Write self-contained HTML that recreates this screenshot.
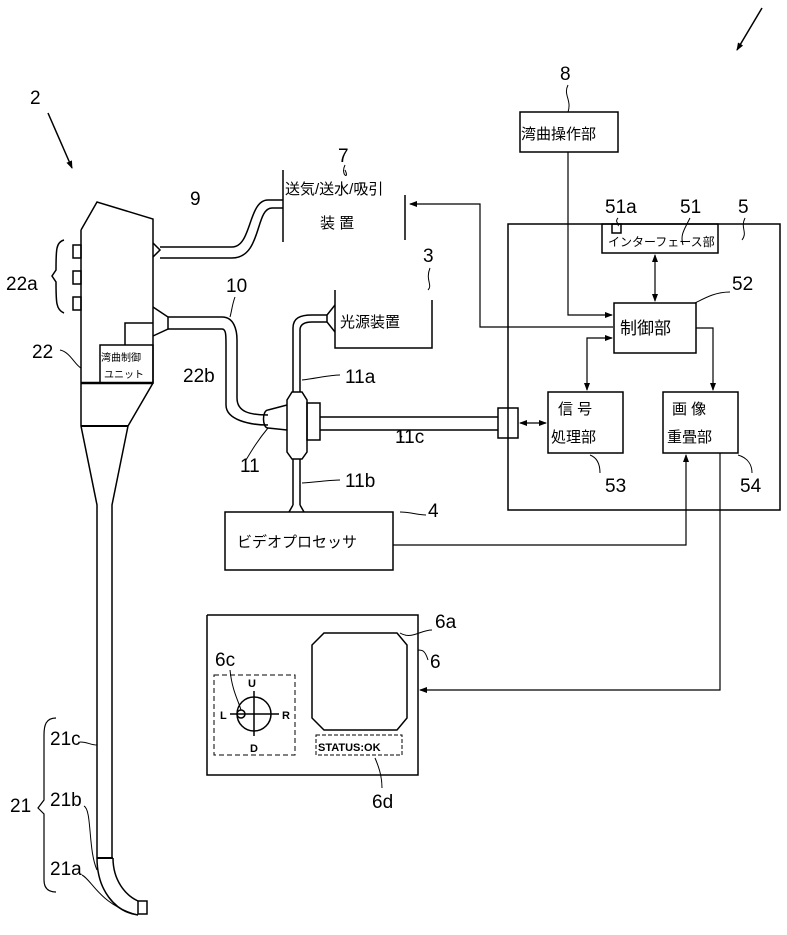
<!DOCTYPE html>
<html><head><meta charset="utf-8"><style>
body{margin:0;background:#fff}
svg{display:block}
text{font-family:"Liberation Sans","Noto Sans CJK JP",sans-serif;fill:#000}
</style></head><body>
<svg width="787" height="935" viewBox="0 0 787 935" xmlns="http://www.w3.org/2000/svg">
<defs><marker id="a" markerWidth="8" markerHeight="8" refX="7" refY="4" orient="auto" markerUnits="userSpaceOnUse"><path d="M0,1 L8,4 L0,7 Z" fill="#000"/></marker>
<marker id="b" markerWidth="8" markerHeight="8" refX="1" refY="4" orient="auto" markerUnits="userSpaceOnUse"><path d="M8,1 L0,4 L8,7 Z" fill="#000"/></marker></defs>
<g fill="none" stroke="#000" stroke-width="1.5">
<path d="M81,230 L97,202 L153,219 L153,383 L128,426 L112,505 L112,858 M81,230 L81,426 L97,505 L97,858"/>
<path d="M81,383 L153,383" stroke-width="2.5"/>
<path d="M81,426 L128,426" stroke-width="2"/>
<path d="M97,858 L113,858" stroke-width="2"/>
<path d="M97,858 C97,890 115,912 138,915 M113,858 C113,880 125,895 138,901"/>
<rect x="138" y="901" width="9" height="13"/>
<rect x="73" y="245" width="8" height="13"/><rect x="73" y="271" width="8" height="13"/><rect x="73" y="297" width="8" height="13"/>
<path d="M64,240 C56,242 56,250 56,270 L52,276 L56,282 C56,302 56,310 64,313"/>
<rect x="100" y="345" width="53" height="38"/><path d="M125,345 L125,323 L153,323"/>
<path d="M153,243 L160,250 L153,257"/>
<path d="M160,247 L232,247 C252,247 248,200 268,200 L283,200 M160,258 L232,258 C262,258 255,208 272,208 L283,208"/>
<path d="M283,170 L283,242 M405,195 L405,240"/>
<path d="M153,307 L168,317 L168,329 L153,336"/>
<path d="M168,317 L222,317 C234,317 237,330 237,340 L237,398 C237,412 250,415 268,415 M168,329 L222,329 C226,329 226,335 226,345 L226,405 C226,420 250,425 268,425"/>
<path d="M268,410 C262,410 262,428 268,428 M268,410 L287,405 M268,428 L287,430"/>
<path d="M287,400 L292,392 L302,392 L307,400 L307,452 L302,459 L292,459 L287,452 Z"/>
<rect x="307" y="403" width="13" height="37"/>
<path d="M293,392 L293,328 C293,318 300,315 312,315 L327,315 M300,392 L300,330 C300,324 305,322 312,322 L327,322"/>
<path d="M335,305 L327,315 L327,322 L335,332"/>
<path d="M335,290 L335,348 L432,348 L432,300"/>
<path d="M320,417 L498,417 M320,430 L498,430"/>
<rect x="498" y="408" width="20" height="30"/>
<path d="M293,459 L293,505 M300,459 L300,505 M293,505 L289,512 M300,505 L304,512"/>
<rect x="225" y="512" width="168" height="58"/>
<rect x="508" y="224" width="272" height="286"/>
<rect x="602" y="224" width="116" height="29"/>
<rect x="612" y="224" width="9" height="9"/>
<rect x="520" y="112" width="98" height="40"/>
<rect x="614" y="303" width="82" height="50"/>
<rect x="548" y="392" width="75" height="61"/>
<rect x="663" y="392" width="75" height="61"/>
<path d="M568,152 L568,315 L612,315" marker-end="url(#a)" stroke-width="1.2"/>
<path d="M613,327 L480,327 L480,204 L410,204" marker-end="url(#a)" stroke-width="1.2"/>
<path d="M655,255 L655,301" marker-end="url(#a)" marker-start="url(#b)" stroke-width="1.2"/>
<path d="M696,328 L713,328 L713,390" marker-end="url(#a)" stroke-width="1.2"/>
<path d="M612,338 L587,338 L587,390" marker-end="url(#a)" marker-start="url(#b)" stroke-width="1.2"/>
<path d="M520,423 L546,423" marker-end="url(#a)" marker-start="url(#b)" stroke-width="1.2"/>
<path d="M393,545 L686,545 L686,455" marker-end="url(#a)" stroke-width="1.2"/>
<path d="M720,453 L720,690 L420,690" marker-end="url(#a)" stroke-width="1.2"/>
<path d="M207,615 L207,775 L418,775 L418,615 L207,615"/>
<path d="M324,633 L397,633 L407,645 L407,718 L397,730 L324,730 L312,718 L312,645 Z"/>
<rect x="316" y="735" width="86" height="20" stroke-dasharray="4,2" stroke-width="1"/>
<rect x="214" y="675" width="81" height="80" stroke-dasharray="5,3" stroke-width="1"/>
<circle cx="254" cy="714" r="17"/>
<path d="M230,714 L279,714 M254,691 L254,736"/>
<circle cx="241" cy="714" r="4"/>
<path d="M48,113 L72,168" marker-end="url(#a)"/>
<path d="M762,8 L737,50" marker-end="url(#a)"/>
<path d="M56,718 C46,718 44,725 44,735 L44,800 L38,808 L44,814 L44,880 C44,888 48,892 56,892" stroke-width="1.2"/>
<path d="M80,742 C88,742 90,745 97,745 M84,806 C92,810 88,850 97,870 M82,875 C92,880 100,905 138,915" stroke-width="1"/>
<g stroke-width="1">
<path d="M345,165 C340,175 350,180 345,170 M568,85 C563,95 572,100 568,112 M430,268 C425,280 433,285 428,290 M235,297 C232,305 232,310 230,317 M618,218 C614,222 620,224 618,226 M690,218 C684,230 680,235 683,245 M745,218 C740,228 748,232 742,240 M730,292 C715,292 705,298 695,303 M340,375 C330,375 318,378 302,380 M246,460 C252,450 258,440 268,428 M340,480 C330,480 318,482 302,483 M400,430 C400,437 400,440 402,436 M600,473 C600,465 598,458 590,455 M752,473 C752,465 748,458 738,455 M426,515 C418,515 410,512 400,512 M432,630 C420,630 412,640 400,633 M428,660 C425,650 422,650 418,650 M230,670 C232,690 238,700 241,710 M382,788 C382,775 378,765 375,758 M60,350 C70,352 75,365 81,368"/>
</g>
</g>
<g font-size="19">
<text x="30" y="104">2</text>
<text x="560" y="80">8</text>
<text x="338" y="162">7</text>
<text x="190" y="205">9</text>
<text x="605" y="213">51a</text>
<text x="680" y="213">51</text>
<text x="738" y="213">5</text>
<text x="732" y="290">52</text>
<text x="423" y="262">3</text>
<text x="226" y="292">10</text>
<text x="6" y="290">22a</text>
<text x="32" y="358">22</text>
<text x="183" y="382">22b</text>
<text x="345" y="383">11a</text>
<text x="240" y="472">11</text>
<text x="345" y="487">11b</text>
<text x="395" y="443">11c</text>
<text x="605" y="492">53</text>
<text x="740" y="492">54</text>
<text x="428" y="517">4</text>
<text x="435" y="628">6a</text>
<text x="430" y="668">6</text>
<text x="215" y="666">6c</text>
<text x="372" y="808">6d</text>
<text x="50" y="745">21c</text>
<text x="50" y="806">21b</text>
<text x="10" y="812">21</text>
<text x="50" y="875">21a</text>
</g>
<g font-size="15">
<text x="285" y="194">送気/送水/吸引</text>
<text x="320" y="228">装 置</text>
<text x="340" y="327">光源装置</text>
<text x="521" y="139">湾曲操作部</text>
<text x="608" y="246" font-size="12">インターフェース部</text>
<text x="620" y="334" font-size="17">制御部</text>
<text x="558" y="414">信 号</text>
<text x="551" y="442">処理部</text>
<text x="672" y="414">画 像</text>
<text x="667" y="442">重畳部</text>
<text x="237" y="547">ビデオプロセッサ</text>
<text x="101" y="361" font-size="10">湾曲制御</text>
<text x="104" y="378" font-size="10">ユニット</text>
<text x="318" y="751" font-size="11" font-weight="bold">STATUS:OK</text>
<text x="248" y="687" font-size="11" font-weight="bold">U</text>
<text x="220" y="719" font-size="11" font-weight="bold">L</text>
<text x="282" y="719" font-size="11" font-weight="bold">R</text>
<text x="250" y="752" font-size="11" font-weight="bold">D</text>
</g>
</svg>
</body></html>
